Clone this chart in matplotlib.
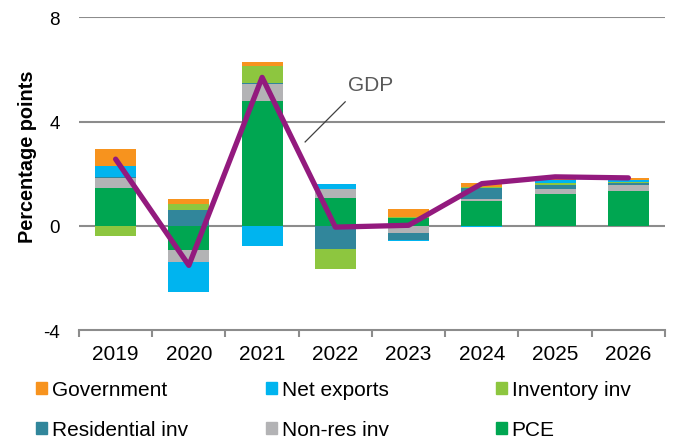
import matplotlib
matplotlib.use("Agg")
import matplotlib.pyplot as plt
import matplotlib.patches as mpatches
import numpy as np

plt.rcParams['font.family'] = ['Liberation Sans', 'DejaVu Sans']

years = ["2019", "2020", "2021", "2022", "2023", "2024", "2025", "2026"]

# Contributions to real GDP growth, percentage points (stacking order, bottom first)
pce         = [1.46, -0.92, 4.79, 1.06, 0.31, 0.95, 1.22, 1.33]
non_res_inv = [0.36, -0.46, 0.67, 0.35, -0.26, 0.08, 0.19, 0.23]
residential = [0.06, 0.61, 0.02, -0.90, -0.28, 0.41, 0.15, 0.08]
inventory   = [-0.40, 0.23, 0.67, -0.74, 0.03, 0.06, 0.08, 0.05]
net_exports = [0.40, -1.18, -0.77, 0.18, -0.05, -0.05, 0.10, 0.06]
government  = [0.68, 0.20, 0.12, 0.00, 0.31, 0.14, 0.08, 0.09]
gdp         = [2.56, -1.52, 5.70, -0.05, 0.02, 1.62, 1.88, 1.84]

series_names = ["PCE", "Non-res inv", "Residential inv", "Inventory inv",
                "Net exports", "Government"]
series_vals = [pce, non_res_inv, residential, inventory, net_exports, government]
series_colors = ["#00A651", "#B3B3B5", "#31869B", "#8DC63F", "#00B4EF", "#F7931E"]

fig = plt.figure(figsize=(6.81, 4.39), dpi=100)
ax = fig.add_axes([0.116, 0.246, 0.8605, 0.712])

x = np.arange(len(years))
pos_bottom = np.zeros(len(years))
neg_bottom = np.zeros(len(years))
handles = {}
for name, vals, col in zip(series_names, series_vals, series_colors):
    v = np.array(vals)
    bottom = np.where(v >= 0, pos_bottom, neg_bottom)
    ax.bar(x, v, width=0.56, bottom=bottom, color=col, zorder=2, linewidth=0)
    handles[name] = mpatches.Patch(color=col)
    pos_bottom = pos_bottom + np.where(v >= 0, v, 0)
    neg_bottom = neg_bottom + np.where(v < 0, v, 0)

ax.plot(x, gdp, color="#931A7E", lw=3.8, zorder=3, solid_capstyle="round",
        solid_joinstyle="round")

# GDP callout
ax.plot([2.587, 3.134], [3.22, 4.76], color="#404040", lw=0.9, zorder=4)
ax.text(3.475, 5.44, "GDP", fontsize=15, color="#595959", ha="center", va="center")

ax.set_xlim(-0.5, len(years) - 0.5)
ax.set_ylim(-4, 8)
ax.set_yticks([-4, 0, 4, 8])
ax.set_yticklabels(["-4", "0", "4", "8"])
for yv in [0, 4, 8]:
    ax.axhline(yv, color="#8C8C8C", lw=1.5, zorder=1)

ax.set_xticks(x)
ax.set_xticklabels(years)
ax.set_xticks(np.arange(-0.5, len(years)), minor=True)
ax.tick_params(axis="x", which="major", length=0, labelsize=15, pad=10, colors="black")
ax.tick_params(axis="x", which="minor", length=5, width=1.5, color="#8C8C8C")
ax.tick_params(axis="y", length=0, labelsize=13.5, pad=14)

for s in ["top", "right", "left"]:
    ax.spines[s].set_visible(False)
ax.spines["bottom"].set_color("#8C8C8C")
ax.spines["bottom"].set_linewidth(1.5)

ax.set_ylabel("Percentage points", fontsize=14.3, fontweight="bold")
ax.yaxis.set_label_coords(-0.0717, 0.559)

# Legend: three columns of two rows
columns = [["Government", "Residential inv"],
           ["Net exports", "Non-res inv"],
           ["Inventory inv", "PCE"]]
col_x = [0.0529, 0.3906, 0.7283]
for cx, names in zip(col_x, columns):
    fig.legend([handles[n] for n in names], names, loc="center left",
               bbox_to_anchor=(cx, 0.064), ncol=1, frameon=False,
               fontsize=15, handlelength=0.51, handleheight=0.51,
               handletextpad=0.24, labelspacing=1.0, borderaxespad=0,
               borderpad=0)

fig.savefig("out.png", dpi=100)
